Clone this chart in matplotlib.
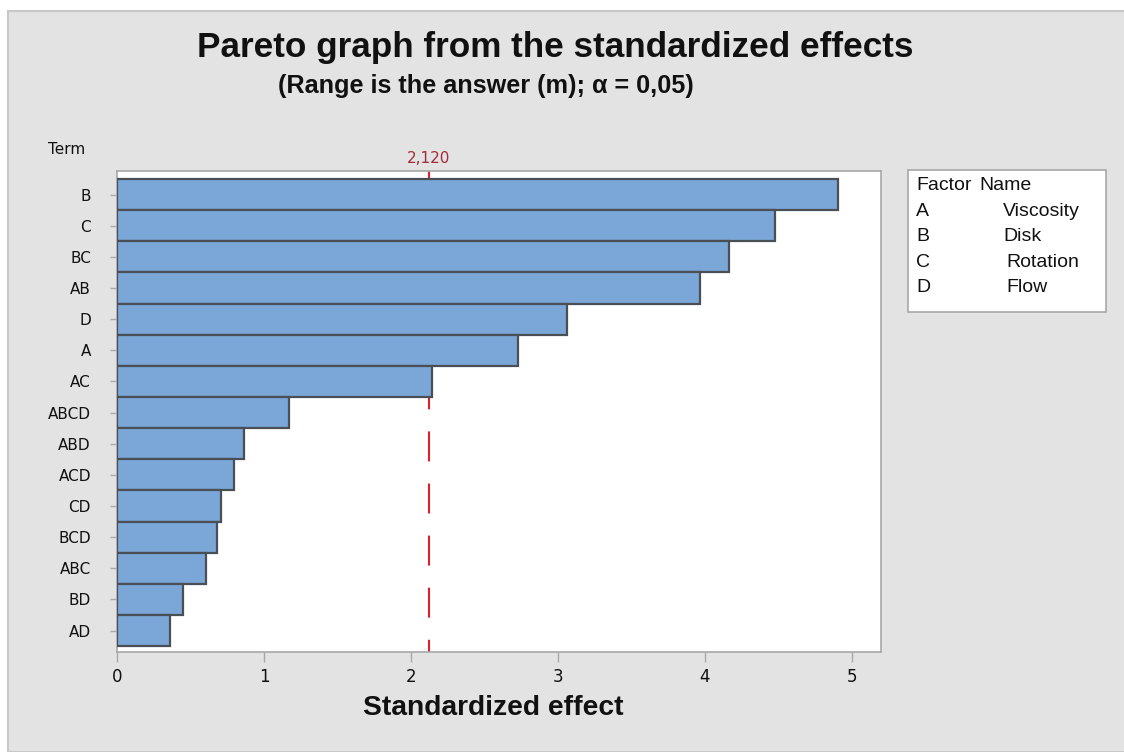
import matplotlib
matplotlib.use("Agg")
import matplotlib.pyplot as plt
from matplotlib.patches import Rectangle

terms = ['B', 'C', 'BC', 'AB', 'D', 'A', 'AC', 'ABCD', 'ABD', 'ACD', 'CD', 'BCD', 'ABC', 'BD', 'AD']
effects = [4.91, 4.48, 4.165, 3.97, 3.065, 2.73, 2.14, 1.17, 0.865, 0.795, 0.706, 0.677, 0.604, 0.445, 0.361]
critical = 2.120
factors = ['A', 'B', 'C', 'D']
names = ['Viscosity', 'Disk', 'Rotation', 'Flow']

W, H = 1124, 752
fig = plt.figure(figsize=(W / 100, H / 100), dpi=100)
fig.patch.set_facecolor('white')

# grey panel behind everything
fig.patches.append(Rectangle((8 / W, 0), 1, 1 - 11 / H, transform=fig.transFigure,
                             facecolor='#e3e3e3', edgecolor='#c8c8c8', lw=1.5, zorder=-10))

ax = fig.add_axes([117.3 / W, 1 - 651.7 / H, (881 - 117.3) / W, (651.7 - 171) / H])
ax.set_zorder(5)
ax.set_facecolor('white')

n = len(terms)
ypos = list(range(n - 1, -1, -1))
ax.barh(ypos, effects, height=1.0, color='#7ba7d8', edgecolor='#4a4f55', lw=1.6, zorder=3)

# reference line, drawn from top so the dash pattern starts at the frame
ax.plot([critical, critical], [1, 0], transform=ax.get_xaxis_transform(),
        color='#e0202a', lw=1.5, linestyle=(0, (14.4, 10.6)), zorder=2)
ax.text(critical, 1.01, '2,120', transform=ax.get_xaxis_transform(), ha='center', va='bottom',
        fontsize=11, color='#a52a3a')

ax.set_xlim(0, 5.20)
ax.set_ylim(-0.5 - 0.18, n - 0.5 + 0.26)
ax.set_yticks(ypos)
ax.set_yticklabels(terms)
ax.set_xticks([0, 1, 2, 3, 4, 5])

for s in ax.spines.values():
    s.set_color('#a8a8a8')
    s.set_linewidth(1.2)
ax.tick_params(axis='y', length=5, width=1, color='#a8a8a8', pad=14, labelsize=11, labelcolor='#111111')
ax.tick_params(axis='x', length=7, width=1, color='#a8a8a8', pad=5, labelsize=12, labelcolor='#111111')

fig.text(67 / W, 1 - 150 / H, 'Term', ha='center', va='center', fontsize=11, color='#111111')

fig.text(555 / W, 1 - 48 / H, 'Pareto graph from the standardized effects', ha='center', va='center',
         fontsize=25.3, fontweight='bold', family='Liberation Sans', color='#111111')
fig.text(486 / W, 1 - 86 / H, '(Range is the answer (m); α = 0,05)', ha='center', va='center',
         fontsize=18.2, fontweight='bold', family='Liberation Sans', color='#111111')
fig.text(493 / W, 1 - 708 / H, 'Standardized effect', ha='center', va='center',
         fontsize=20.3, fontweight='bold', family='Liberation Sans', color='#111111')

# factor / name box
fig.patches.append(Rectangle((908 / W, 1 - 312 / H), 198 / W, 142 / H, transform=fig.transFigure,
                             facecolor='white', edgecolor='#a8a8a8', lw=1.2, zorder=-5))
fs = 14
fig.text(916 / W, 1 - 186 / H, 'Factor', ha='left', va='center', fontsize=fs,
         family='Liberation Sans', color='#111111')
fig.text(979 / W, 1 - 186 / H, 'Name', ha='left', va='center', fontsize=fs,
         family='Liberation Sans', color='#111111')
for i, (f, nm) in enumerate(zip(factors, names)):
    y = 1 - (211 + i * 25.6) / H
    fig.text(916 / W, y, f, ha='left', va='center', fontsize=fs, family='Liberation Sans', color='#111111')
    fig.text((1003 + (3 if i >= 2 else 0)) / W, y, nm, ha='left', va='center', fontsize=fs,
             family='Liberation Sans', color='#111111')

fig.savefig('out.png', dpi=100)
